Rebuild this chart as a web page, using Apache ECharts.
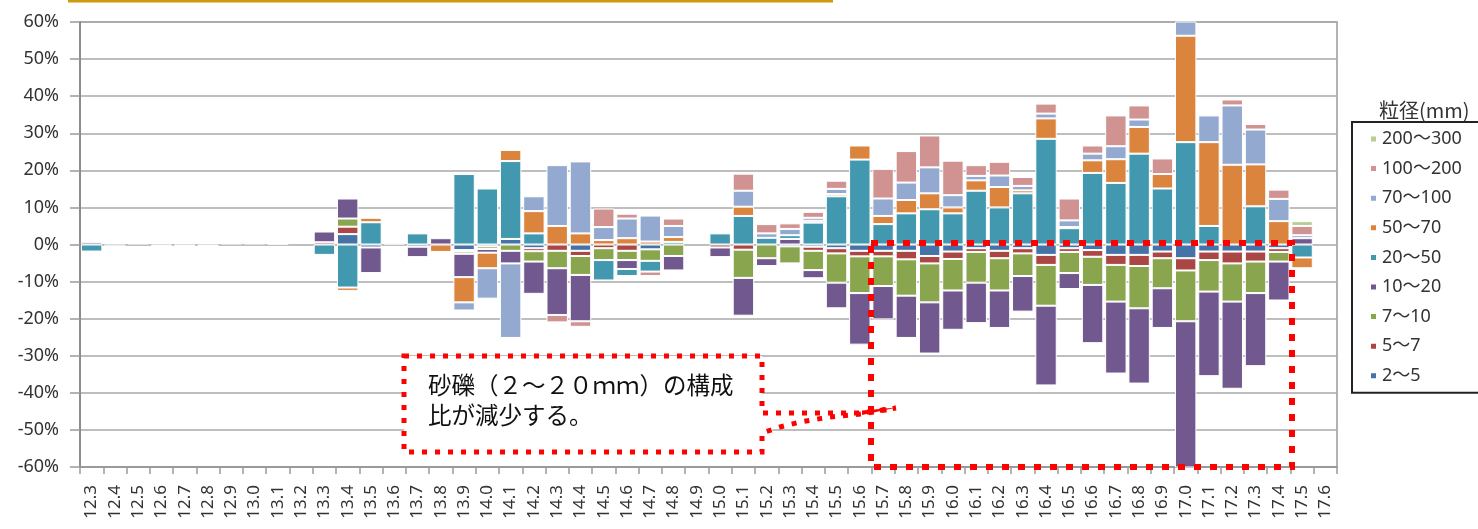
<!DOCTYPE html>
<html>
<head>
<meta charset="utf-8">
<title>粒径別構成比の変化</title>
<script src="https://cdn.jsdelivr.net/npm/echarts/dist/echarts.min.js"></script>
<style>
  html, body { margin: 0; padding: 0; background: #fff; }
  #chart { width: 1478px; height: 529px; }
</style>
</head>
<body>
<div id="chart"></div>
<script>
// 年.月 (x軸)
const months = ['12.3', '12.4', '12.5', '12.6', '12.7', '12.8', '12.9', '13.0', '13.1', '13.2',
  '13.3', '13.4', '13.5', '13.6', '13.7', '13.8', '13.9', '14.0', '14.1', '14.2',
  '14.3', '14.4', '14.5', '14.6', '14.7', '14.8', '14.9', '15.0', '15.1', '15.2',
  '15.3', '15.4', '15.5', '15.6', '15.7', '15.8', '15.9', '16.0', '16.1', '16.2',
  '16.3', '16.4', '16.5', '16.6', '16.7', '16.8', '16.9', '17.0', '17.1', '17.2',
  '17.3', '17.4', '17.5', '17.6']

// y軸の目盛り (%)
const yTicks = [-60, -50, -40, -30, -20, -10, 0, 10, 20, 30, 40, 50, 60]

// 粒径ごとの構成比の変化 (%)
const g2to5 = [0, 0, 0, 0, 0, 0, 0, 0, 0, 0,
  0, 2.8, -0.8, 0, -0.6, 0, -1.5, -0.5, 1.5, -1.0,
  0, -1.7, 0, 0, -1.3, 0, 0, 0, 0, 0,
  -0.5, -0.6, -1.0, -1.7, -1.7, -1.7, -3.1, -1.9, -1.0, -1.7,
  -1.0, -2.8, -1.0, -1.5, -2.8, -2.8, -1.9, -3.7, -1.9, -1.9,
  -1.9, -1.0, 0, 0]
const g5to7 = [0, 0, 0, 0, 0, 0, 0, 0, 0, 0,
  0.6, 2.0, 0, 0, 0, 0, -0.4, 0, 0, -0.8,
  -1.7, -1.4, -1.0, -1.7, 0, 0, 0, -0.8, -1.4, 0,
  0, -1.1, -1.4, -1.5, -1.5, -2.3, -2.0, -2.0, -1.0, -2.0,
  -1.4, -2.7, -1.0, -1.8, -2.7, -3.0, -1.8, -3.3, -2.3, -3.2,
  -2.7, -1.0, 0, 0]
const g7to10 = [0, 0, 0, 0, 0, 0, 0, 0, 0, 0,
  0, 2.2, 0, 0, 0, 0, -0.6, -0.7, -1.7, -2.8,
  -4.7, -5.1, -3.2, -2.5, -3.1, -3.1, 0, 0, -7.6, -3.7,
  -4.6, -5.2, -7.9, -9.9, -8.0, -9.8, -10.5, -8.5, -8.3, -8.7,
  -6.1, -11.0, -5.7, -7.6, -9.9, -11.4, -8.1, -13.7, -8.5, -10.3,
  -8.5, -2.6, 0, 0]
const g10to20 = [0.6, 0, 0, 0, 0, 0, 0, 0, 0, 0,
  2.9, 5.4, -6.9, 0, -2.8, 1.7, -6.3, -1.0, -3.4, -8.7,
  -12.6, -12.5, 0, -2.4, 0, -3.9, 0, -2.6, -10.2, -2.1,
  1.5, -2.2, -6.9, -13.9, -9.0, -11.4, -13.8, -10.6, -10.9, -10.1,
  -9.6, -21.5, -4.3, -15.7, -19.4, -20.3, -10.7, -40.0, -22.8, -23.5,
  -19.7, -10.5, 1.7, 0]
const g20to50 = [-1.9, -0.5, 0, -0.4, -0.4, -0.4, 0.4, 0.4, 0.2, 0,
  -2.8, -11.6, 6.0, 0.3, 3.0, 0, 19.0, 15.1, 21.0, 3.0,
  0, 0, -5.5, -1.9, -2.9, 0.7, 0, 3.0, 7.7, 1.8,
  1.0, 5.9, 13.0, 22.9, 5.5, 8.4, 9.5, 8.4, 14.5, 10.0,
  13.8, 28.5, 4.4, 19.3, 16.6, 24.5, 15.1, 27.6, 5.0, 0,
  10.3, 0, -3.5, 0]
const g50to70 = [0, 0, 0, 0, 0, 0, 0, 0, 0, 0,
  0, -0.9, 1.2, 0, 0, -2.0, -6.8, -4.2, 3.0, 6.0,
  5.0, 3.0, 1.2, 1.7, 0.8, 1.3, 0, 0, 2.5, 0,
  0, 0.5, 0.6, 3.8, 2.2, 3.6, 4.3, 1.6, 2.8, 5.5,
  0.8, 5.5, 0.3, 3.4, 6.4, 7.2, 3.9, 28.7, 22.6, 21.5,
  11.3, 6.3, -2.9, 0]
const g70to100 = [0, 0, 0, 0, 0, 0, 0.4, 0.4, 0, 0,
  0, 0, 0, 0, 0, 0, -2.2, -8.2, -20.1, 4.0,
  16.4, 19.4, 3.5, 5.3, 7.0, 3.0, 0, 0, 4.3, 1.2,
  1.7, 0.8, 1.4, 0, 4.7, 4.7, 7.0, 3.3, 1.2, 3.1,
  1.2, 1.3, 1.8, 1.8, 3.5, 2.0, 0, 4.5, 7.2, 16.0,
  9.4, 6.0, 0.8, 0]
const g100to200 = [0, 0, 0.4, 0, 0, 0, 0, 0, 0, 0,
  0, 0, 0, 0, 0, 0, 0, 0, 0, 0,
  -2.0, -1.5, 5.0, 1.3, -1.2, 2.0, 0, 0, 4.6, 2.5,
  1.5, 1.6, 2.2, 0, 8.0, 8.5, 8.6, 9.3, 2.9, 3.7,
  2.4, 2.7, 5.9, 2.2, 8.3, 3.8, 4.2, 0, 0, 1.6,
  1.5, 2.5, 2.5, 0]
const g200to300 = [0, 0, 0, 0, 0, 0, 0, 0, 0, 0,
  0, 0, 0, 0, 0, 0, 0, 0, 0, 0,
  0, 0, 0, 0, 0, 0, 0, 0, 0, 0,
  0, 0, 0, 0, 0, 0, 0, 0, 0, 0,
  0, 0, 0, 0, 0, 0, 0, 0, 0, 0,
  0, 0, 1.3, 0]

const sizeNames = ['2～5', '5～7', '7～10', '10～20', '20～50', '50～70', '70～100', '100～200', '200～300']
const sizeData = [g2to5, g5to7, g7to10, g10to20, g20to50, g50to70, g70to100, g100to200, g200to300]
const sizeColors = ['#4572a7', '#aa4643', '#89a54e', '#71588f', '#4198af', '#db843d', '#93a9cf', '#d19392', '#b9cd96']

const jpFont = "'Noto Sans CJK JP', sans-serif"
const numFont = "'Noto Sans', 'Noto Sans CJK JP', sans-serif"
const red = '#ff0000'

const chart = echarts.init(document.getElementById('chart'))

const series = sizeNames.map((name, i) => ({
  name: name,
  type: 'bar',
  stack: 'ratio',
  clip: true,
  barCategoryGap: '8%',
  // 0 は描かない
  data: sizeData[i].map(v => (v === 0 ? '-' : v)),
  itemStyle: {
    color: sizeColors[i],
    borderColor: '#fff',
    borderWidth: 1
  }
}))

const option = {
  animation: false,
  backgroundColor: '#fff',
  title: {
    text: '粒径(mm)',
    left: 1374,
    top: 95,
    textStyle: { fontFamily: jpFont, fontSize: 20, fontWeight: 'normal', color: '#333' }
  },
  legend: {
    orient: 'vertical',
    left: 1352,
    top: 122,
    padding: [8, 60, 8, 17],
    borderColor: '#222',
    borderWidth: 2,
    itemWidth: 7,
    itemHeight: 7,
    itemGap: 11.6,
    itemTextGap: 11,
    icon: 'rect',
    data: sizeNames.slice().reverse(),
    textStyle: { fontFamily: numFont, fontSize: 18, lineHeight: 18, color: '#333' }
  },
  grid: {
    left: 80,
    right: 141,
    top: 22,
    bottom: 62,
    show: true,
    borderColor: '#9a9a9a',
    borderWidth: 1.5
  },
  xAxis: {
    type: 'category',
    data: months,
    axisLine: { onZero: false, lineStyle: { color: '#9a9a9a', width: 2 } },
    axisTick: { show: true, length: 7, lineStyle: { color: '#9a9a9a', width: 1.5 } },
    axisLabel: {
      interval: 0,
      rotate: 90,
      margin: 18,
      fontFamily: numFont,
      fontSize: 17,
      color: '#333'
    }
  },
  yAxis: {
    type: 'value',
    min: yTicks[0],
    max: yTicks[yTicks.length - 1],
    interval: yTicks[1] - yTicks[0],
    axisLine: { show: true, lineStyle: { color: '#8c8c8c', width: 2 } },
    axisTick: { show: true, length: 10, lineStyle: { color: '#9a9a9a', width: 1.5 } },
    axisLabel: {
      formatter: '{value}%',
      margin: 21,
      fontFamily: numFont,
      fontSize: 18,
      color: '#333'
    },
    splitLine: { lineStyle: { color: '#a8a8a8', width: 1.5 } }
  },
  series: series,
  graphic: [
    // 上部の見出し枠の下線
    {
      type: 'rect',
      shape: { x: 68, y: 0, width: 765, height: 2.5 },
      style: { fill: '#cc9a0c' },
      z: 100
    },
    // 注目範囲の点線枠
    {
      type: 'rect',
      shape: { x: 871, y: 243, width: 421, height: 224 },
      style: { fill: 'none', stroke: red, lineWidth: 6, lineDash: [7, 9] },
      z: 100
    },
    // 吹き出し
    {
      type: 'polygon',
      shape: {
        points: [[404, 356], [762, 356], [762, 413], [862, 413], [896, 408], [862, 414],
          [830, 417], [800, 422], [780, 427], [762, 433], [762, 452], [404, 452]]
      },
      style: { fill: '#fff', stroke: red, lineWidth: 5, lineDash: [5, 8] },
      z: 101
    },
    {
      type: 'polygon',
      shape: { points: [[862, 410.5], [897, 407.5], [862, 415]] },
      style: { fill: red },
      z: 102
    },
    {
      type: 'text',
      x: 428,
      y: 370,
      style: {
        text: '砂礫（２～２０ｍｍ）の構成\n比が減少する。',
        font: '23.5px ' + jpFont,
        lineHeight: 30,
        fill: '#111'
      },
      z: 103
    }
  ]
}

chart.setOption(option)
</script>
</body>
</html>
